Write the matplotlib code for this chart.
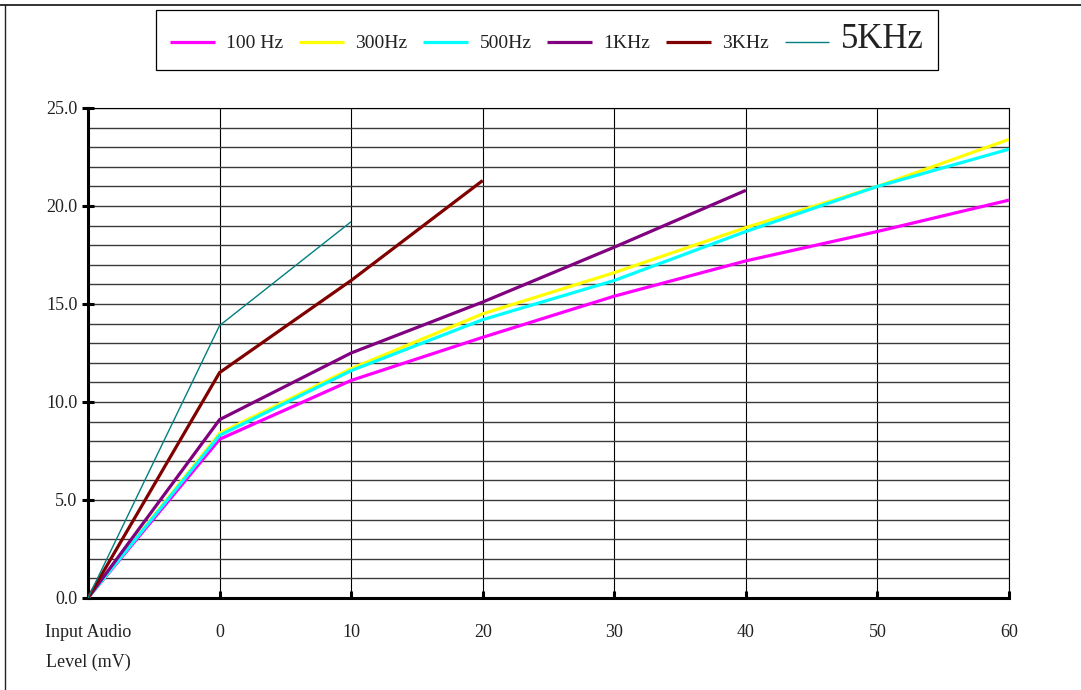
import matplotlib
matplotlib.use("Agg")
import matplotlib.pyplot as plt
from matplotlib.lines import Line2D
from matplotlib.ticker import MultipleLocator
import numpy as np

nan = np.nan

# x categories (first one is the axis caption)
levels = ["Input Audio\nLevel (mV)", "0", "10", "20", "30", "40", "50", "60"]

# output readings per frequency (NaN = not measured)
hz100 = [0.0, 8.1, 11.1, 13.3, 15.4, 17.2, 18.7, 20.3]
hz300 = [0.0, 8.4, 11.7, 14.5, 16.6, 18.9, 21.0, 23.4]
hz500 = [0.0, 8.3, 11.6, 14.2, 16.2, 18.7, 21.0, 22.9]
khz1 = [0.0, 9.1, 12.5, 15.1, 17.9, 20.8, nan, nan]
khz3 = [0.0, 11.5, 16.2, 21.3, nan, nan, nan, nan]
khz5 = [0.0, 13.9, 19.2, nan, nan, nan, nan, nan]

series = [
    ("100 Hz", hz100, "#ff00ff", 2.3),
    ("300Hz", hz300, "#ffff00", 2.3),
    ("500Hz", hz500, "#00ffff", 2.3),
    ("1KHz", khz1, "#800080", 2.3),
    ("3KHz", khz3, "#800000", 2.3),
    ("5KHz", khz5, "#008080", 1.0),
]

plt.rcParams["font.family"] = ["Liberation Serif", "DejaVu Serif"]

fig = plt.figure(figsize=(10.81, 6.90), dpi=100)
ax = fig.add_axes([88 / 1081, 1 - 598 / 690, (1009 - 88) / 1081, (598 - 108) / 690])

x = np.arange(len(levels))
for name, vals, col, lw in series:
    ax.plot(x, vals, color=col, lw=lw, label=name, solid_capstyle="butt", zorder=3)

ax.set_xlim(0, len(levels) - 1)
ax.set_ylim(0, 25)
ax.set_xticks(x)
ax.set_xticklabels(levels, linespacing=1.95)
ax.yaxis.set_major_locator(MultipleLocator(5))
ax.yaxis.set_minor_locator(MultipleLocator(1))
ax.yaxis.set_major_formatter(lambda v, p: f"{v:.1f}")

ax.grid(axis="x", color="black", lw=0.8)
ax.grid(axis="y", which="both", color="#3a3a3a", lw=1.0)
ax.set_axisbelow(True)

ax.tick_params(axis="y", which="major", direction="inout", length=9, width=2.2,
               labelsize=13, pad=3, colors="black", labelcolor="#222222")
ax.tick_params(axis="y", which="minor", length=0)
ax.tick_params(axis="x", direction="in", length=5, width=2.2, labelsize=13,
               pad=19, labelcolor="#222222")
for lab in ax.get_xticklabels():
    lab.set_verticalalignment("top")

for s in ["left", "bottom"]:
    ax.spines[s].set_linewidth(2.2)
for s in ["top", "right"]:
    ax.spines[s].set_linewidth(0.8)

leg = fig.legend(loc="center", bbox_to_anchor=(547 / 1081, 1 - 40 / 690), ncol=6,
                 fontsize=14, handlelength=2.3, handletextpad=0.6, columnspacing=0.8,
                 fancybox=False, framealpha=1, edgecolor="black", borderpad=0.7)
leg.get_frame().set_linewidth(0.9)
for t in leg.get_texts():
    t.set_color("#222222")
leg.get_texts()[-1].set_fontsize(25)

# outer frame (top and left edges only)
fig.add_artist(Line2D([0, 1], [1 - 4.5 / 690] * 2, transform=fig.transFigure,
                      color="#222222", lw=1.3))
fig.add_artist(Line2D([5 / 1081] * 2, [0, 1 - 4.5 / 690], transform=fig.transFigure,
                      color="#222222", lw=1.0))

fig.savefig("out.png", dpi=100)
